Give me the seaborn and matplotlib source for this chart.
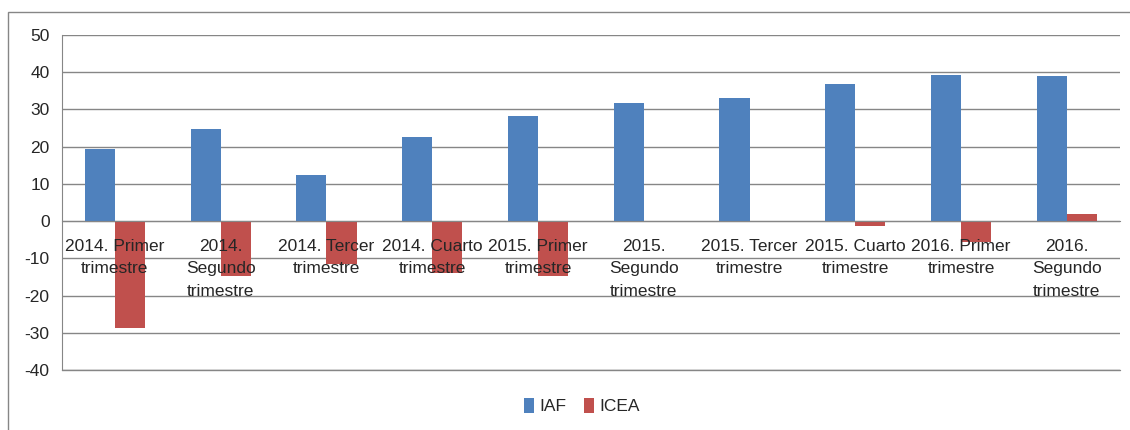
import pandas as pd
import seaborn as sns
import matplotlib.pyplot as plt
from matplotlib.patches import Rectangle
from matplotlib.ticker import FixedLocator

# values
periods = ["2014. Primer\ntrimestre", "2014.\nSegundo\ntrimestre", "2014. Tercer\ntrimestre",
           "2014. Cuarto\ntrimestre", "2015. Primer\ntrimestre", "2015.\nSegundo\ntrimestre",
           "2015. Tercer\ntrimestre", "2015. Cuarto\ntrimestre", "2016. Primer\ntrimestre",
           "2016.\nSegundo\ntrimestre"]
iaf = [19.4, 24.8, 12.4, 22.6, 28.2, 31.7, 33.0, 36.8, 39.2, 39.0]
icea = [-28.7, -14.8, -11.6, -14.0, -14.8, 0.0, -0.3, -1.2, -5.7, 2.0]
yticks = list(range(-40, 51, 10))

df = pd.DataFrame({
    "periodo": periods * 2,
    "valor": iaf + icea,
    "serie": ["IAF"] * len(iaf) + ["ICEA"] * len(icea),
})

sns.set_style("white")
plt.rcParams["font.family"] = ["Liberation Sans", "DejaVu Sans"]
plt.rcParams["axes.unicode_minus"] = False

fig = plt.figure(figsize=(11.3, 4.3), dpi=100)
ax = fig.add_axes([0.0549, 0.1395, 0.936, 0.779])

grid_col = "#868686"
sns.barplot(data=df, x="periodo", y="valor", hue="serie", order=periods,
            palette={"IAF": "#4F81BD", "ICEA": "#C0504D"}, width=0.57,
            saturation=1, linewidth=0, ax=ax, zorder=3)

ax.set_ylim(-40, 50)
ax.set_xlim(-0.5, len(periods) - 0.5)
ax.set_yticks(yticks)
ax.yaxis.grid(True, color=grid_col, linewidth=1)
ax.set_axisbelow(True)
ax.xaxis.set_zorder(5)
ax.axhline(-40, color=grid_col, linewidth=1, clip_on=False, zorder=1)
ax.set_xlabel("")
ax.set_ylabel("")

for s in ["top", "right"]:
    ax.spines[s].set_visible(False)
ax.spines["left"].set_color(grid_col)
ax.spines["bottom"].set_color(grid_col)
ax.spines["bottom"].set_position(("data", 0))
ax.spines["bottom"].set_zorder(4)

ax.tick_params(axis="y", length=5, color=grid_col, labelsize=12.5, pad=4)
ax.tick_params(axis="x", which="major", length=0, labelsize=12.5, pad=13)
ax.xaxis.set_minor_locator(FixedLocator([i + 0.5 for i in range(len(periods))]))
ax.tick_params(axis="x", which="minor", length=8, direction="inout", color=grid_col)
for lab in ax.get_xticklabels():
    lab.set_linespacing(1.6)

ax.legend(loc="lower center", bbox_to_anchor=(0.515, 0.0), bbox_transform=fig.transFigure,
          ncol=2, frameon=False, fontsize=12.5, handlelength=0.6, handleheight=0.9,
          handletextpad=0.3, columnspacing=1.0)

# outer chart border (right edge falls outside the picture)
fig.patches.append(Rectangle((0.007, -0.01), 1.0, 0.982, transform=fig.transFigure,
                             fill=False, edgecolor=grid_col, linewidth=1))

fig.savefig("out.png", dpi=100)
